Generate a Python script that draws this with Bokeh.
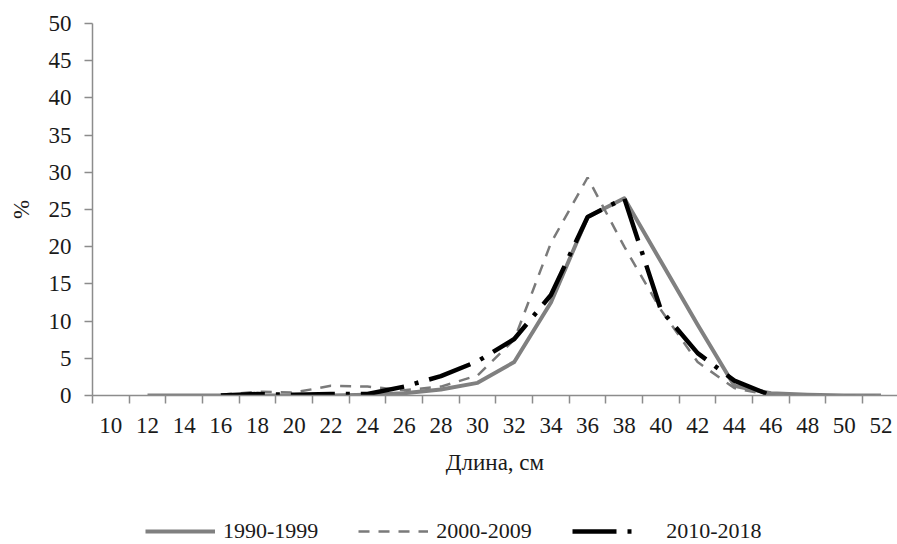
import math

from bokeh.embed import file_html
from bokeh.resources import INLINE
from bokeh.plotting import figure
from bokeh.layouts import column
from bokeh.models import (ColumnDataSource, Range1d, FixedTicker, Legend,
                          LegendItem)

nan = math.nan

# Length classes, cm
lengths = [10, 12, 14, 16, 18, 20, 22, 24, 26, 28, 30, 32, 34, 36, 38, 40,
           42, 44, 46, 48, 50, 52]

# Share of fish in each length class, %
share_1990_1999 = [nan, 0, 0, 0, 0, 0, 0, 0.1, 0.3, 0.8, 1.7, 4.5, 12.5, 24.0,
                   26.5, 18.0, 9.5, 1.3, 0.3, 0.1, 0, 0]
share_2000_2009 = [nan, nan, nan, 0.1, 0.5, 0.4, 1.3, 1.2, 0.7, 1.2, 2.7, 7.5,
                   20.5, 29.3, 20.0, 11.5, 4.5, 1.0, 0, 0, 0, 0]
share_2010_2018 = [nan, nan, nan, 0, 0.2, 0.1, 0.2, 0.2, 1.2, 2.6, 4.6, 7.6,
                   13.5, 24.0, 26.5, 11.5, 5.7, 2.0, 0, nan, nan, nan]

y_ticks = [0, 5, 10, 15, 20, 25, 30, 35, 40, 45, 50]
series_labels = ["1990-1999", "2000-2009", "\u00a0\u00a0\u00a02010-2018"]

source = ColumnDataSource(dict(x=lengths, a=share_1990_1999,
                               b=share_2000_2009, c=share_2010_2018))

FONT = "Liberation Serif"
TEXT = "#1a1a1a"
AXIS = "#8c8c8c"

# line styles of the three periods
STYLES = [dict(line_color="#808080", line_width=4, line_join="round"),
          dict(line_color="#7a7a7a", line_width=2.5, line_dash="11 9"),
          dict(line_color="#000000", line_width=4.5, line_dash="44 11 4 11")]

p = figure(width=897, height=510, output_backend="svg", toolbar_location=None,
           x_range=Range1d(9, 52.9), y_range=Range1d(0, 50),
           min_border_left=92, min_border_right=0, min_border_top=23,
           min_border_bottom=115, outline_line_color=None,
           background_fill_color="white", border_fill_color="white")
p.grid.visible = False

# x axis: labels at class centres, tick marks on class boundaries
xa = p.xaxis[0]
xa.ticker = FixedTicker(ticks=lengths,
                        minor_ticks=[v - 1 for v in lengths] + [lengths[-1] + 1])
xa.major_tick_out = 0
xa.major_tick_in = 0
xa.minor_tick_out = 8
xa.minor_tick_in = 0
xa.minor_tick_line_color = AXIS
xa.minor_tick_line_width = 1.5
xa.axis_line_color = AXIS
xa.axis_line_width = 1.5
xa.major_label_standoff = 14
xa.major_label_text_font = FONT
xa.major_label_text_font_size = "23px"
xa.major_label_text_color = TEXT
xa.axis_label = "Длина, см"
xa.axis_label_text_font = FONT
xa.axis_label_text_font_size = "23px"
xa.axis_label_text_font_style = "normal"
xa.axis_label_text_color = TEXT
xa.axis_label_standoff = 14

ya = p.yaxis[0]
ya.ticker = FixedTicker(ticks=y_ticks, minor_ticks=[])
ya.major_tick_out = 8
ya.major_tick_in = 0
ya.major_tick_line_color = AXIS
ya.major_tick_line_width = 1.5
ya.axis_line_color = AXIS
ya.axis_line_width = 1.5
ya.major_label_standoff = 13
ya.major_label_text_font = FONT
ya.major_label_text_font_size = "23px"
ya.major_label_text_color = TEXT
ya.axis_label = "%"
ya.axis_label_text_font = FONT
ya.axis_label_text_font_size = "23px"
ya.axis_label_text_font_style = "normal"
ya.axis_label_text_color = TEXT
ya.axis_label_standoff = 12

for col, style in zip(["a", "b", "c"], STYLES):
    p.line("x", col, source=source, **style)

# legend strip under the chart (its frame is aligned with the chart frame)
leg = figure(width=897, height=34, output_backend="svg", toolbar_location=None,
             x_range=Range1d(0, 1), y_range=Range1d(0, 1),
             x_axis_type=None, y_axis_type=None, min_border=0,
             outline_line_color=None, background_fill_color="white",
             border_fill_color="white")
leg.grid.visible = False
keys = [leg.line([nan], [nan], **style) for style in STYLES]

legend = Legend(items=[LegendItem(label=lab, renderers=[r])
                       for lab, r in zip(series_labels, keys)],
                orientation="horizontal", location=(53, 0),
                glyph_width=70, glyph_height=20, label_standoff=8,
                spacing=40, padding=0, margin=0,
                border_line_alpha=0, background_fill_alpha=0,
                label_text_font=FONT, label_text_font_size="22px",
                label_text_color=TEXT)
leg.add_layout(legend, "center")

open("out.html", "w").write(file_html(column(p, leg, spacing=0), INLINE))
